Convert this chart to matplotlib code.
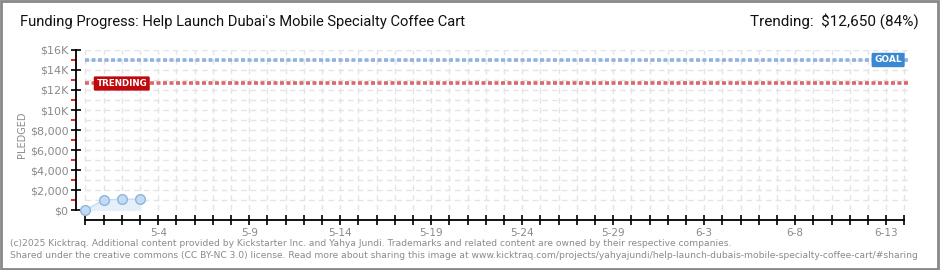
import matplotlib
matplotlib.use("Agg")
import matplotlib.pyplot as plt
import matplotlib.dates as mdates
from matplotlib.patches import Rectangle
import pandas as pd

# datos
fechas = pd.to_datetime(["2025-04-30", "2025-05-01", "2025-05-02", "2025-05-03"])
pledged = [0, 1000, 1080, 1080]
meta = 15000
tendencia = 12650
inicio = pd.Timestamp("2025-04-30")
fin = pd.Timestamp("2025-06-14")
y_ticks = [0, 2000, 4000, 6000, 8000, 10000, 12000, 14000, 16000]
y_labels = ["$0", "$2,000", "$4,000", "$6,000", "$8,000", "$10K", "$12K", "$14K", "$16K"]

gris = "#8a8a8a"
fig = plt.figure(figsize=(9.4, 2.7), dpi=100)
fig.patches.append(Rectangle((0.001, 0.002), 0.997, 0.995, transform=fig.transFigure,
                             fill=False, edgecolor="#888888", linewidth=2))

ax = fig.add_axes([76 / 940, 50 / 270, 832 / 940, 170 / 270])
x0 = mdates.date2num(inicio) - 0.52
x1 = mdates.date2num(fin) + 0.2
ax.set_xlim(x0, x1)
ax.set_ylim(-1000, 16000)

# grilla punteada
dias = pd.date_range(inicio, fin, freq="D")
ax.vlines(dias, 0, 16000, colors="#e4e4e4", linestyles=(0, (4, 3)), linewidth=1, zorder=0)
ax.hlines(range(1000, 16001, 1000), mdates.date2num(inicio), x1, colors="#e4e4e4",
          linestyles=(0, (4, 3)), linewidth=1, zorder=0)

# meta y tendencia
ax.axhline(meta, xmin=(mdates.date2num(inicio) - x0) / (x1 - x0), color="#8fb3dc",
           linewidth=2.6, linestyle=(0, (1.1, 0.7)), zorder=1)
ax.axhline(tendencia, xmin=(mdates.date2num(inicio) - x0) / (x1 - x0), color="#d9676b",
           linewidth=2.6, linestyle=(0, (1.1, 0.7)), zorder=1)

# serie
ax.fill_between(fechas, pledged, 0, color="#e6f0fb", zorder=2)
ax.plot(fechas, pledged, color="#c6dcf3", linewidth=1, zorder=3)
ax.plot(fechas, pledged, linestyle="none", marker="o", markersize=7,
        markerfacecolor="#c4dbf4", markeredgecolor="#8fb4de", markeredgewidth=1, zorder=4)

# etiquetas GOAL / TRENDING
ax.text(mdates.date2num(pd.Timestamp("2025-06-12")) + 0.35, meta, "GOAL", color="white",
        fontsize=6.5, fontweight="bold", va="center", ha="left", zorder=5,
        bbox=dict(boxstyle="round,pad=0.3,rounding_size=0.15", facecolor="#3a87d4", edgecolor="none"))
ax.text(mdates.date2num(pd.Timestamp("2025-05-01")) - 0.4, tendencia, "TRENDING", color="white",
        fontsize=6.3, fontweight="bold", va="center", ha="left", zorder=5,
        bbox=dict(boxstyle="round,pad=0.3,rounding_size=0.15", facecolor="#c0080c", edgecolor="none"))

# ejes
for lado in ["top", "right"]:
    ax.spines[lado].set_visible(False)
ax.spines["left"].set_bounds(0, 16000)
ax.spines["bottom"].set_bounds(mdates.date2num(inicio), mdates.date2num(fin))
ax.spines["left"].set_linewidth(1.3)
ax.spines["bottom"].set_linewidth(1.3)

ax.set_yticks(y_ticks)
ax.set_yticklabels(y_labels)
ax.set_yticks(range(1000, 16000, 2000), minor=True)
ax.tick_params(axis="y", which="major", direction="inout", length=7, width=1.2,
               labelsize=8, labelcolor=gris, pad=2)
ax.tick_params(axis="y", which="minor", direction="out", length=3.5, width=1.2, color="#e00000")

ax.set_xticks(dias)
ax.set_xticklabels([d.strftime("%-m-%-d") if (d - pd.Timestamp("2025-05-04")).days % 5 == 0 else ""
                    for d in dias])
ax.tick_params(axis="x", direction="inout", length=7, width=1.2, labelsize=7.5,
               labelcolor=gris, pad=2)

ax.set_ylabel("PLEDGED", fontsize=7, color=gris, labelpad=2)

# textos
fig.text(20 / 940, 1 - 22 / 270, "Funding Progress: Help Launch Dubai's Mobile Specialty Coffee Cart",
         fontsize=10.6, va="center", ha="left", color="#111111", family="Roboto")
fig.text(919 / 940, 1 - 21 / 270, "Trending:  $12,650 (84%)", fontsize=11, va="center",
         ha="right", color="#111111", family="Roboto")
fig.text(10 / 940, 1 - 243 / 270,
         "(c)2025 Kicktraq. Additional content provided by Kickstarter Inc. and Yahya Jundi. "
         "Trademarks and related content are owned by their respective companies.",
         fontsize=6.6, color=gris, va="center", ha="left")
fig.text(10 / 940, 1 - 256 / 270,
         "Shared under the creative commons (CC BY-NC 3.0) license. Read more about sharing this image at "
         "www.kicktraq.com/projects/yahyajundi/help-launch-dubais-mobile-specialty-coffee-cart/#sharing",
         fontsize=6.55, color=gris, va="center", ha="left")

fig.savefig("out.png", dpi=100)
